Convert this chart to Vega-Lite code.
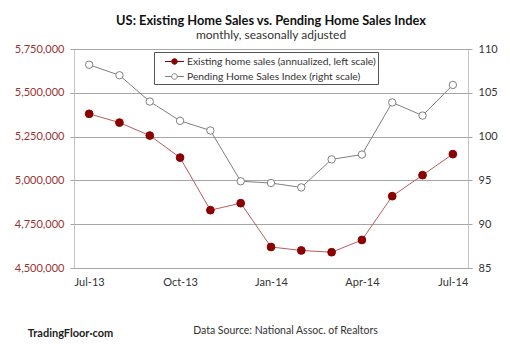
{
  "$schema": "https://vega.github.io/schema/vega-lite/v6.json",
  "width": 394,
  "height": 219,
  "autosize": {"type": "none"},
  "padding": {"left": 74, "top": 49, "right": 42, "bottom": 82},
  "background": "white",
  "title": {
    "text": "US: Existing Home Sales vs. Pending Home Sales Index",
    "subtitle": "monthly, seasonally adjusted",
    "anchor": "middle",
    "font": "Lato",
    "fontSize": 12.8,
    "fontWeight": "bold",
    "color": "#111",
    "subtitleFont": "Lato",
    "subtitleFontSize": 12,
    "subtitleColor": "#333",
    "subtitlePadding": 2,
    "offset": 2
  },
  "config": {
    "view": {"stroke": "#c4c4c4", "strokeWidth": 1},
    "axis": {"labelFont": "Lato", "labelFontSize": 11, "titleFont": "Lato"},
    "legend": {
      "title": null,
      "orient": "none",
      "legendX": 80,
      "legendY": 3,
      "direction": "vertical",
      "strokeColor": "#555",
      "padding": 2,
      "symbolType": "M-1.36,0H-0.4M0.4,0H1.36M0.4,0A0.4,0.4,0,1,1,-0.4,0A0.4,0.4,0,1,1,0.4,0Z",
      "symbolSize": 196,
      "symbolStrokeWidth": 1,
      "symbolOffset": 11,
      "labelOffset": 5,
      "labelFont": "Lato",
      "labelFontSize": 10.3,
      "labelColor": "#333",
      "labelLimit": 300,
      "rowPadding": 2
    }
  },
  "data": {
    "values": [
      {"month": "Jul-13", "existing": 5380000, "pending": 108.2},
      {"month": "Aug-13", "existing": 5330000, "pending": 107.0},
      {"month": "Sep-13", "existing": 5256000, "pending": 104.0},
      {"month": "Oct-13", "existing": 5130000, "pending": 101.8},
      {"month": "Nov-13", "existing": 4830000, "pending": 100.7},
      {"month": "Dec-13", "existing": 4870000, "pending": 94.9},
      {"month": "Jan-14", "existing": 4620000, "pending": 94.7},
      {"month": "Feb-14", "existing": 4600000, "pending": 94.2},
      {"month": "Mar-14", "existing": 4590000, "pending": 97.4},
      {"month": "Apr-14", "existing": 4660000, "pending": 97.95},
      {"month": "May-14", "existing": 4910000, "pending": 103.9},
      {"month": "Jun-14", "existing": 5030000, "pending": 102.4},
      {"month": "Jul-14", "existing": 5150000, "pending": 105.9}
    ]
  },
  "encoding": {
    "x": {
      "field": "month",
      "type": "ordinal",
      "sort": null,
      "scale": {"type": "point", "padding": 0.5},
      "axis": {
        "labelAngle": 0,
        "ticks": false,
        "domain": false,
        "labelPadding": 8,
        "labelColor": "#333",
        "labelExpr": "indexof(['Jul-13','Oct-13','Jan-14','Apr-14','Jul-14'], datum.value) >= 0 ? datum.value : ''",
        "title": "Data Source: National Assoc. of Realtors",
        "titleFontSize": 10.5,
        "titleFontWeight": "normal",
        "titleColor": "#333",
        "titleX": 211,
        "titleY": 57,
        "titleAnchor": "middle"
      }
    }
  },
  "layer": [
    {
      "encoding": {
        "y": {
          "field": "existing",
          "type": "quantitative",
          "scale": {"domain": [4500000, 5750000], "nice": false, "zero": false},
          "axis": {
            "values": [4500000, 4750000, 5000000, 5250000, 5500000, 5750000],
            "format": ",.0f",
            "labelColor": "#993333",
            "grid": true,
            "gridColor": "#a6a6a6",
            "domain": false,
            "tickSize": 4,
            "tickColor": "#a6a6a6",
            "labelPadding": 6,
            "title": "TradingFloor·com",
            "titleAngle": 0,
            "titleX": -4,
            "titleY": 284,
            "titleAlign": "center",
            "titleBaseline": "middle",
            "titleFontSize": 11,
            "titleFontWeight": "bold",
            "titleColor": "#222"
          }
        }
      },
      "layer": [
        {"mark": {"type": "line", "color": "#b85c5c", "strokeWidth": 1}},
        {
          "mark": {"type": "point", "filled": true, "size": 60, "strokeWidth": 1, "opacity": 1, "fillOpacity": 1},
          "encoding": {
            "stroke": {
              "datum": "Existing home sales (annualized, left scale)",
              "scale": {
                "domain": ["Existing home sales (annualized, left scale)", "Pending Home Sales Index (right scale)"],
                "range": ["#8b0000", "#7f7f7f"]
              },
              "legend": {"labelExpr": "datum.label + '      '"}
            },
            "fill": {
              "datum": "Existing home sales (annualized, left scale)",
              "scale": {
                "domain": ["Existing home sales (annualized, left scale)", "Pending Home Sales Index (right scale)"],
                "range": ["#8b0000", "#ffffff"]
              },
              "legend": {"labelExpr": "datum.label + '      '"}
            }
          }
        }
      ]
    },
    {
      "encoding": {
        "y": {
          "field": "pending",
          "type": "quantitative",
          "scale": {"domain": [85, 110], "nice": false, "zero": false},
          "axis": {
            "orient": "right",
            "values": [85, 90, 95, 100, 105, 110],
            "labelColor": "#333",
            "grid": false,
            "domain": false,
            "tickSize": 4,
            "tickColor": "#a6a6a6",
            "labelPadding": 6,
            "title": null
          }
        }
      },
      "layer": [
        {"mark": {"type": "line", "color": "#7f7f7f", "strokeWidth": 1}},
        {
          "mark": {"type": "point", "filled": true, "size": 55, "strokeWidth": 1, "opacity": 1, "fillOpacity": 1},
          "encoding": {
            "stroke": {"datum": "Pending Home Sales Index (right scale)"},
            "fill": {"datum": "Pending Home Sales Index (right scale)"}
          }
        }
      ]
    }
  ],
  "resolve": {"scale": {"y": "independent"}}
}
